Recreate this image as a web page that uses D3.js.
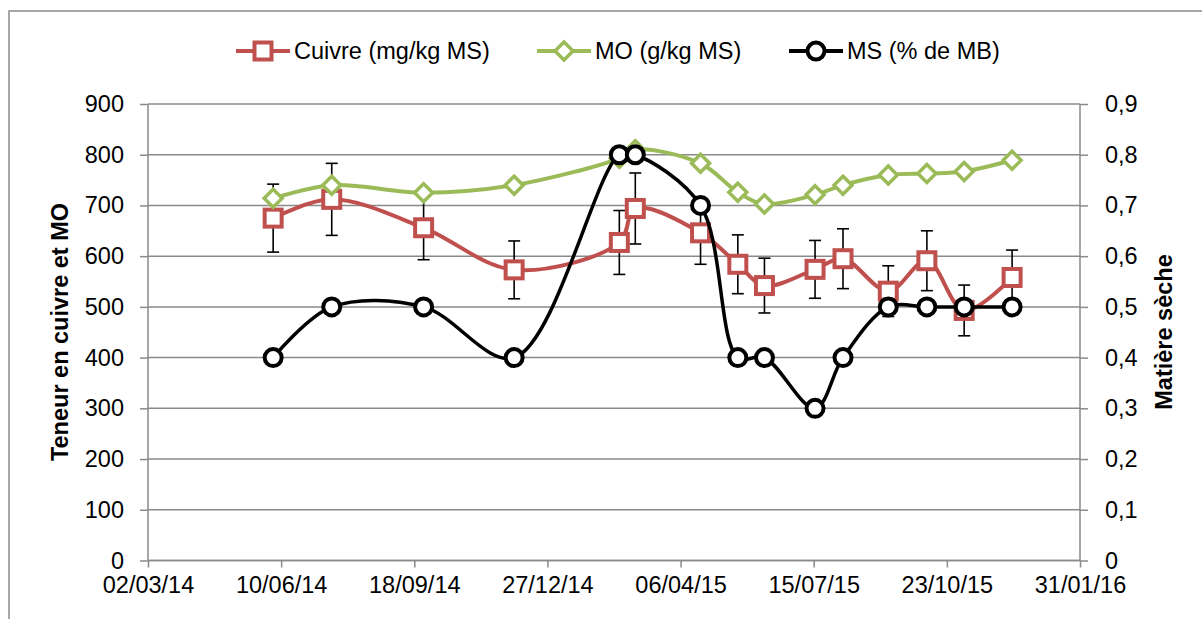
<!DOCTYPE html>
<html>
<head>
<meta charset="utf-8">
<script src="https://cdn.jsdelivr.net/npm/d3@7"></script>
<style>
  html, body { margin: 0; padding: 0; background: #fff; }
  svg { display: block; }
  text { font-family: "Liberation Sans", Arial, sans-serif; fill: #000; }
</style>
</head>
<body>
<svg id="chart" width="1202" height="619"></svg>
<script>
// Sampling dates
const dates = ["2014-06-04","2014-07-18","2014-09-25","2014-12-02","2015-02-19","2015-03-03","2015-04-21","2015-05-19","2015-06-08","2015-07-16","2015-08-06","2015-09-09","2015-10-08","2015-11-05","2015-12-11"];
// Cuivre (mg/kg MS) with standard deviation
const cuivre = [675, 712, 656, 573, 627, 694, 646, 584, 542, 574, 595, 531, 591, 493, 558];
const cuivreErr = [67, 71, 63, 57, 63, 70, 62, 58, 54, 57, 59, 50, 59, 50, 54];
// MO (g/kg MS)
const mo = [714, 740, 725, 740, 793, 810, 783, 726, 703, 721, 740, 760, 763, 767, 789];
// MS (% de MB), right axis
const ms = [0.4, 0.5, 0.5, 0.4, 0.8, 0.8, 0.7, 0.4, 0.4, 0.3, 0.4, 0.5, 0.5, 0.5, 0.5];

const leftTicks = [0, 100, 200, 300, 400, 500, 600, 700, 800, 900];
const rightTicks = [0, 0.1, 0.2, 0.3, 0.4, 0.5, 0.6, 0.7, 0.8, 0.9];
const xTickLabels = ["02/03/14", "10/06/14", "18/09/14", "27/12/14", "06/04/15", "15/07/15", "23/10/15", "31/01/16"];

const series = [
  { name: "Cuivre (mg/kg MS)", color: "#C0504D", marker: "square" },
  { name: "MO (g/kg MS)", color: "#9BBB59", marker: "diamond" },
  { name: "MS (% de MB)", color: "#000000", marker: "circle" }
];

const parse = d3.utcParse("%Y-%m-%d");
const parseTick = d3.utcParse("%d/%m/%y");
const fmtTick = d3.utcFormat("%d/%m/%y");

const plot = { left: 148, right: 1080, top: 104, bottom: 560.5 };
const FS = 23.5;
const grid = "#8a8a8a";

const svg = d3.select("#chart");

// Outer chart frame
svg.append("rect")
  .attr("x", 9).attr("y", 11).attr("width", 1210).attr("height", 640)
  .attr("fill", "none").attr("stroke", grid).attr("stroke-width", 1.5);

const tickDates = xTickLabels.map(parseTick);
const x = d3.scaleUtc()
  .domain([tickDates[0], tickDates[tickDates.length - 1]])
  .range([plot.left, plot.right]);
const yL = d3.scaleLinear().domain([0, 900]).range([plot.bottom, plot.top]);
const yR = d3.scaleLinear().domain([0, 0.9]).range([plot.bottom, plot.top]);

// Horizontal gridlines
svg.append("g").selectAll("line").data(leftTicks).join("line")
  .attr("x1", plot.left).attr("x2", plot.right)
  .attr("y1", d => yL(d)).attr("y2", d => yL(d))
  .attr("stroke", grid).attr("stroke-width", 1.5);

// Left axis
const axL = svg.append("g").attr("transform", `translate(${plot.left},0)`)
  .call(d3.axisLeft(yL).tickValues(leftTicks).tickSize(8).tickPadding(16).tickFormat(d3.format("d")));
// Right axis
const axR = svg.append("g").attr("transform", `translate(${plot.right},0)`)
  .call(d3.axisRight(yR).tickValues(rightTicks).tickSize(8).tickPadding(17)
    .tickFormat(d => d === 0 ? "0" : d3.format(".1f")(d).replace(".", ",")));
// Bottom axis
const axB = svg.append("g").attr("transform", `translate(0,${plot.bottom})`)
  .call(d3.axisBottom(x).tickValues(tickDates).tickSize(7).tickPadding(9).tickFormat(fmtTick));

[axL, axR, axB].forEach(ax => {
  ax.select(".domain").attr("stroke", grid).attr("stroke-width", 1.5);
  ax.selectAll(".tick line").attr("stroke", grid).attr("stroke-width", 1.5);
  ax.selectAll(".tick text").attr("font-size", FS)
    .attr("font-family", "'Liberation Sans', Arial, sans-serif").attr("fill", "#000");
});
axB.select(".domain").attr("d", `M${plot.left},0H${plot.right}`);
axL.select(".domain").attr("d", `M0,${plot.top}V${plot.bottom}`);
axR.select(".domain").attr("d", `M0,${plot.top}V${plot.bottom}`);

// Axis titles
svg.append("text")
  .attr("transform", `translate(68,332) rotate(-90)`)
  .attr("text-anchor", "middle").attr("font-size", FS).attr("font-weight", "bold")
  .text("Teneur en cuivre et MO");
svg.append("text")
  .attr("transform", `translate(1172,332) rotate(-90)`)
  .attr("text-anchor", "middle").attr("font-size", FS).attr("font-weight", "bold")
  .text("Matière sèche");

// Point records
const pts = dates.map((d, i) => ({
  date: parse(d), cu: cuivre[i], err: cuivreErr[i], mo: mo[i], ms: ms[i]
}));

// Centripetal spline: smooth without loops between close points
const curve = d3.curveCatmullRom.alpha(0.5);

function drawMarker(g, type, color, cx, cy) {
  if (type === "square") {
    g.append("rect").attr("x", cx - 8.5).attr("y", cy - 8.5).attr("width", 17).attr("height", 17)
      .attr("fill", "#fff").attr("stroke", color).attr("stroke-width", 4);
  } else if (type === "diamond") {
    const r = 9;
    g.append("path").attr("d", `M${cx},${cy - r}L${cx + r},${cy}L${cx},${cy + r}L${cx - r},${cy}Z`)
      .attr("fill", "#fff").attr("stroke", color).attr("stroke-width", 3.5);
  } else {
    g.append("circle").attr("cx", cx).attr("cy", cy).attr("r", 8.5)
      .attr("fill", "#fff").attr("stroke", color).attr("stroke-width", 4);
  }
}

// Cuivre series: line, error bars, markers
const gCu = svg.append("g");
gCu.append("path").datum(pts)
  .attr("d", d3.line().x(d => x(d.date)).y(d => yL(d.cu)).curve(curve))
  .attr("fill", "none").attr("stroke", series[0].color).attr("stroke-width", 4);
const gErr = gCu.append("g").attr("stroke", "#000").attr("stroke-width", 1.6);
pts.forEach(d => {
  const cx = x(d.date), y1 = yL(d.cu + d.err), y2 = yL(d.cu - d.err);
  gErr.append("line").attr("x1", cx).attr("x2", cx).attr("y1", y1).attr("y2", y2);
  gErr.append("line").attr("x1", cx - 6).attr("x2", cx + 6).attr("y1", y1).attr("y2", y1);
  gErr.append("line").attr("x1", cx - 6).attr("x2", cx + 6).attr("y1", y2).attr("y2", y2);
});
pts.forEach(d => drawMarker(gCu, "square", series[0].color, x(d.date), yL(d.cu)));

// MO series
const gMo = svg.append("g");
gMo.append("path").datum(pts)
  .attr("d", d3.line().x(d => x(d.date)).y(d => yL(d.mo)).curve(curve))
  .attr("fill", "none").attr("stroke", series[1].color).attr("stroke-width", 4);
pts.forEach(d => drawMarker(gMo, "diamond", series[1].color, x(d.date), yL(d.mo)));

// MS series (right axis)
const gMs = svg.append("g");
gMs.append("path").datum(pts)
  .attr("d", d3.line().x(d => x(d.date)).y(d => yR(d.ms)).curve(curve))
  .attr("fill", "none").attr("stroke", series[2].color).attr("stroke-width", 3.5);
pts.forEach(d => drawMarker(gMs, "circle", series[2].color, x(d.date), yR(d.ms)));

// Legend
const legendX = [236, 537, 789];
const legend = svg.append("g");
series.forEach((s, i) => {
  const lx = legendX[i], ly = 51;
  legend.append("line").attr("x1", lx).attr("x2", lx + 54).attr("y1", ly).attr("y2", ly)
    .attr("stroke", s.color).attr("stroke-width", 4);
  drawMarker(legend, s.marker, s.color, lx + 27, ly);
  legend.append("text").attr("x", lx + 58).attr("y", ly).attr("dy", "0.35em")
    .attr("font-size", FS).text(s.name);
});
</script>
</body>
</html>
